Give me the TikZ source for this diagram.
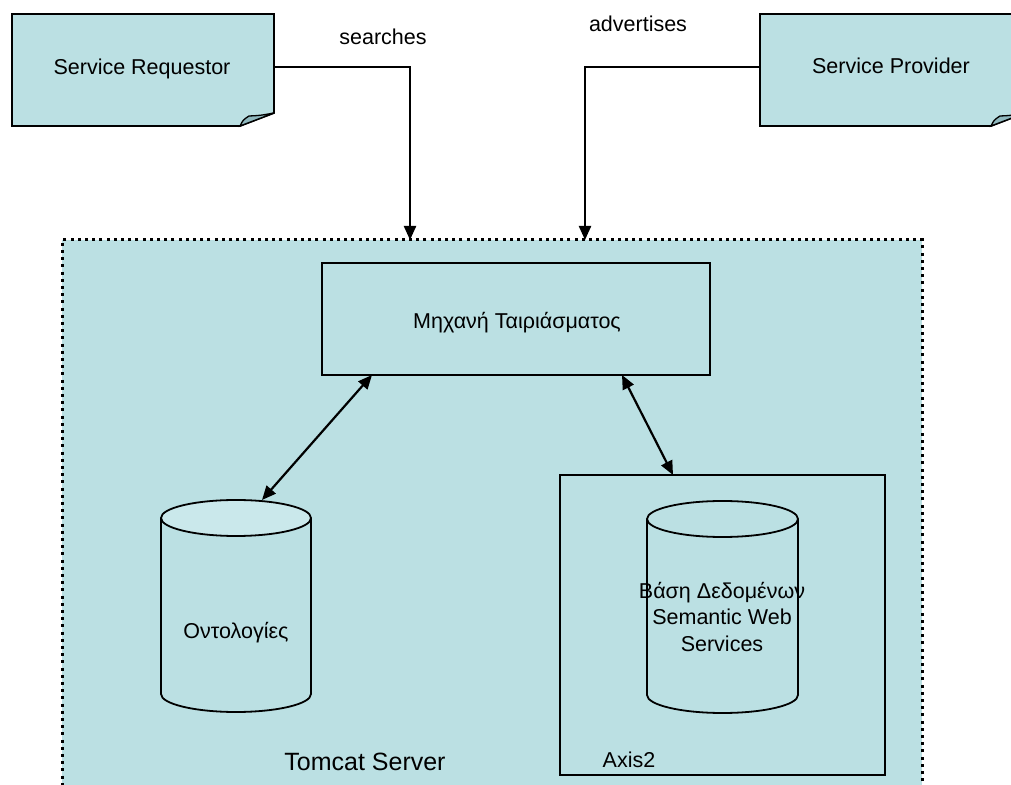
\documentclass[tikz,border=0pt]{standalone}
\usepackage{fontspec}
\setmainfont{Liberation Sans}
\usetikzlibrary{arrows.meta,backgrounds}
\definecolor{paleteal}{RGB}{187,224,227}
\definecolor{capteal}{RGB}{202,232,235}
\definecolor{foldteal}{RGB}{143,184,190}

\tikzset{
  txt/.style={font=\fontsize{21.5}{26.5}\selectfont, inner sep=0pt},
  holder/.style={inner sep=0pt, outer sep=0pt},
  framebox/.style={holder, draw, line width=1.8pt},
  notefill/.style={fill=paleteal, draw, line width=1.8pt},
  drum/.style={line width=1.8pt},
  flow/.style={line width=2.2pt, -{Triangle[length=14pt,width=12pt]}},
  both/.style={line width=2.2pt, {Triangle[length=14pt,width=12pt]}-{Triangle[length=14pt,width=12pt]}},
}

\begin{document}
\begin{tikzpicture}[x=1pt,y=1pt]
\useasboundingbox (0,0) rectangle (1011,784);
\clip (0,0) rectangle (1011,784);

% Tomcat container (runs past the lower edge)
\node[holder, minimum width=860pt, minimum height=574pt, fill=paleteal,
      draw, line width=3pt, dash pattern=on 3pt off 4.2pt] (tomcat) at (492,257) {};
\node[txt, font=\fontsize{25}{30}\selectfont] (tomcatlbl) at (365,22) {Tomcat Server};

% Notes for the two parties
\node[holder, minimum width=262pt, minimum height=112pt] (req) at (143,714) {};
\node[txt, anchor=base] (reqlbl) at (142,709) {Service Requestor};
\node[holder, minimum width=265pt, minimum height=112pt] (prov) at (892.5,714) {};
\node[txt, anchor=base] (provlbl) at (891,710) {Service Provider};

\begin{scope}[on background layer]
  \foreach \n in {req,prov}{
    \path[notefill] (\n.north west) -- (\n.north east) -- ([yshift=13pt]\n.south east)
      -- ([xshift=-34pt]\n.south east) -- (\n.south west) -- cycle;
    \path[fill=foldteal, draw, line width=1.3pt] ([xshift=-34pt]\n.south east)
      .. controls ([xshift=-31pt,yshift=6pt]\n.south east) .. ([xshift=-25pt,yshift=10pt]\n.south east)
      .. controls ([xshift=-14pt,yshift=10.5pt]\n.south east) .. ([yshift=13pt]\n.south east) -- cycle;
  }
\end{scope}

% Matching engine
\node[framebox, fill=paleteal, minimum width=388pt, minimum height=112pt] (match) at (516,465) {};
\node[txt] (matchlbl) at (517,461) {Μηχανή Ταιριάσματος};

% Axis2 container
\node[framebox, minimum width=325pt, minimum height=300pt] (axis) at (722.5,159) {};
\node[txt] (axislbl) at (629,24) {Axis2};

% Ontology store
\node[holder, minimum width=150pt, minimum height=212pt] (ontdrum) at (236,178) {};
\filldraw[drum, fill=paleteal] (161,266) -- (161,90)
  arc[start angle=180, end angle=360, x radius=75pt, y radius=18pt] -- (311,266);
\filldraw[drum, fill=capteal] (236,266) ellipse [x radius=75pt, y radius=18pt];
\node[txt] (ontlbl) at (236,151) {Οντολογίες};

% Semantic web services store
\node[holder, minimum width=151pt, minimum height=212pt] (dbdrum) at (722.5,177) {};
\filldraw[drum, fill=paleteal] (647,265) -- (647,89)
  arc[start angle=180, end angle=360, x radius=75.5pt, y radius=18pt] -- (798,265);
\filldraw[drum, fill=paleteal] (722.5,265) ellipse [x radius=75.5pt, y radius=18pt];
\node[txt, align=center] (dblbl) at (722,167) {Βάση Δεδομένων\\Semantic Web\\Services};

% Requests and advertisements
\coordinate (sx) at (410,0);
\coordinate (ax) at (585,0);
\draw[flow] ([yshift=3pt]req.east) -| (sx |- tomcat.north);
\draw[flow] ([yshift=3pt]prov.west) -| (ax |- tomcat.north);
\node[txt] (searcheslbl) at (383,747) {searches};
\node[txt] (advlbl) at (638,760) {advertises};

% Links between the engine and the stores
\draw[both] ([xshift=50pt]match.south west) -- ([xshift=26pt]ontdrum.north);
\draw[both] ([xshift=-88pt]match.south east) -- ([xshift=-49.5pt]axis.north);
\end{tikzpicture}
\end{document}
